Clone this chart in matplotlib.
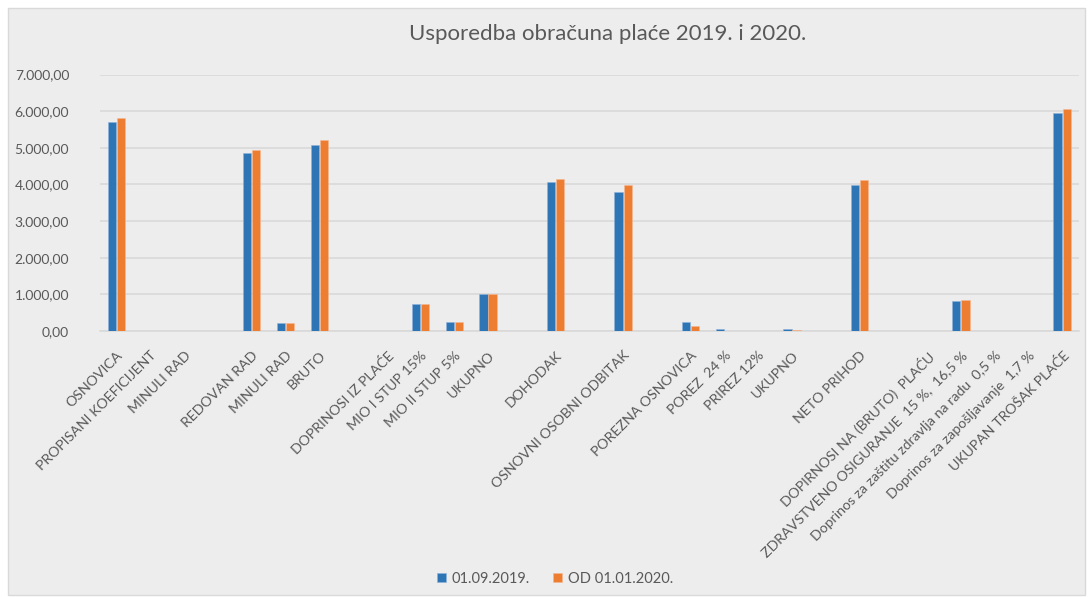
import matplotlib
matplotlib.use("Agg")
import matplotlib.pyplot as plt
from matplotlib.ticker import FuncFormatter, FixedLocator
from matplotlib.patches import Rectangle
import numpy as np

plt.rcParams['font.family'] = ['Lato', 'DejaVu Sans']

categories = [
    "OSNOVICA", "PROPISANI KOEFICIJENT", "MINULI RAD", "",
    "REDOVAN RAD", "MINULI RAD", "BRUTO", "",
    "DOPRINOSI IZ PLAĆE", "MIO I STUP 15%", "MIO II STUP 5%", "UKUPNO", "",
    "DOHODAK", "", "OSNOVNI OSOBNI ODBITAK", "",
    "POREZNA OSNOVICA", "POREZ  24 %", "PRIREZ 12%", "UKUPNO", "",
    "NETO PRIHOD", "", "DOPIRNOSI NA (BRUTO)  PLAĆU",
    "ZDRAVSTVENO OSIGURANJE  15 %,  16,5 %",
    "Doprinos za zaštitu zdravlja na radu  0,5 %",
    "Doprinos za zapošljavanje  1,7 %",
    "UKUPAN TROŠAK PLAĆE",
]
series_2019 = [5700, 0, 0, 0, 4850, 210, 5085, 0, 0, 745, 237, 1000, 0,
               4058, 0, 3790, 0, 258, 60, 0, 62, 0, 3990, 0, 0, 822, 0, 0, 5950]
series_2020 = [5805, 0, 0, 0, 4940, 210, 5205, 0, 0, 745, 237, 1000, 0,
               4150, 0, 3990, 0, 148, 0, 0, 28, 0, 4115, 0, 0, 846, 0, 0, 6060]
legend_labels = ["01.09.2019.", "OD 01.01.2020."]
yticks = [0, 1000, 2000, 3000, 4000, 5000, 6000, 7000]

BLUE = "#2E75B6"
ORANGE = "#ED7D31"
TXT = "#595959"
GRID = "#D9D9D9"
BG = "#EDEDED"

fig = plt.figure(figsize=(10.89, 5.97), dpi=100)
fig.patch.set_facecolor("white")
# chart area box
fig.patches.append(Rectangle((8/1089, 2/597), 1077/1089, 587/597, transform=fig.transFigure,
                             facecolor=BG, edgecolor=GRID, linewidth=1.0, zorder=-10))

ax = fig.add_axes([99.7/1089, 1 - 331/597, (1079 - 99.7)/1089, (331 - 74.5)/597])
ax.set_facecolor("none")
ax.set_zorder(5)

x = np.arange(len(categories))
w = 0.245
off = 0.135
ax.bar(x - off, series_2019, width=w, color=BLUE, edgecolor="#8DB3DC", linewidth=0.4,
       label=legend_labels[0], zorder=3)
ax.bar(x + off, series_2020, width=w, color=ORANGE, edgecolor="#F5B893", linewidth=0.4,
       label=legend_labels[1], zorder=3)

ax.set_xlim(-0.5, len(categories) - 0.5)
ax.set_ylim(0, 7000)
ax.yaxis.set_major_locator(FixedLocator(yticks))

def fmt(v, pos):
    s = f"{v:,.2f}"
    return s.replace(",", "X").replace(".", ",").replace("X", ".")
ax.yaxis.set_major_formatter(FuncFormatter(fmt))

ax.grid(axis="y", color=GRID, linewidth=1.2, zorder=0)
ax.set_axisbelow(True)
for s in ["top", "right", "left"]:
    ax.spines[s].set_visible(False)
ax.spines["bottom"].set_color(GRID)
ax.spines["bottom"].set_linewidth(1.2)
ax.tick_params(axis="y", length=0, pad=22, labelsize=10, labelcolor=TXT)
ax.tick_params(axis="x", length=0, pad=13, labelsize=10.2, labelcolor=TXT)

ax.set_xticks(x)
ax.set_xticklabels(categories, rotation=45, ha="right", rotation_mode="anchor")

fig.text(608/1089, 1 - 34/597, "Usporedba obračuna plaće 2019. i 2020.", ha="center", va="center",
         fontsize=16, color=TXT)

leg = fig.legend(loc="center", bbox_to_anchor=(555/1089, 1 - 579/597), ncol=2, frameon=False,
                 fontsize=10.5, handlelength=0.6, handleheight=0.6, handletextpad=0.4,
                 columnspacing=1.6, labelcolor=TXT)

fig.savefig("out.png", dpi=100, facecolor="white")
